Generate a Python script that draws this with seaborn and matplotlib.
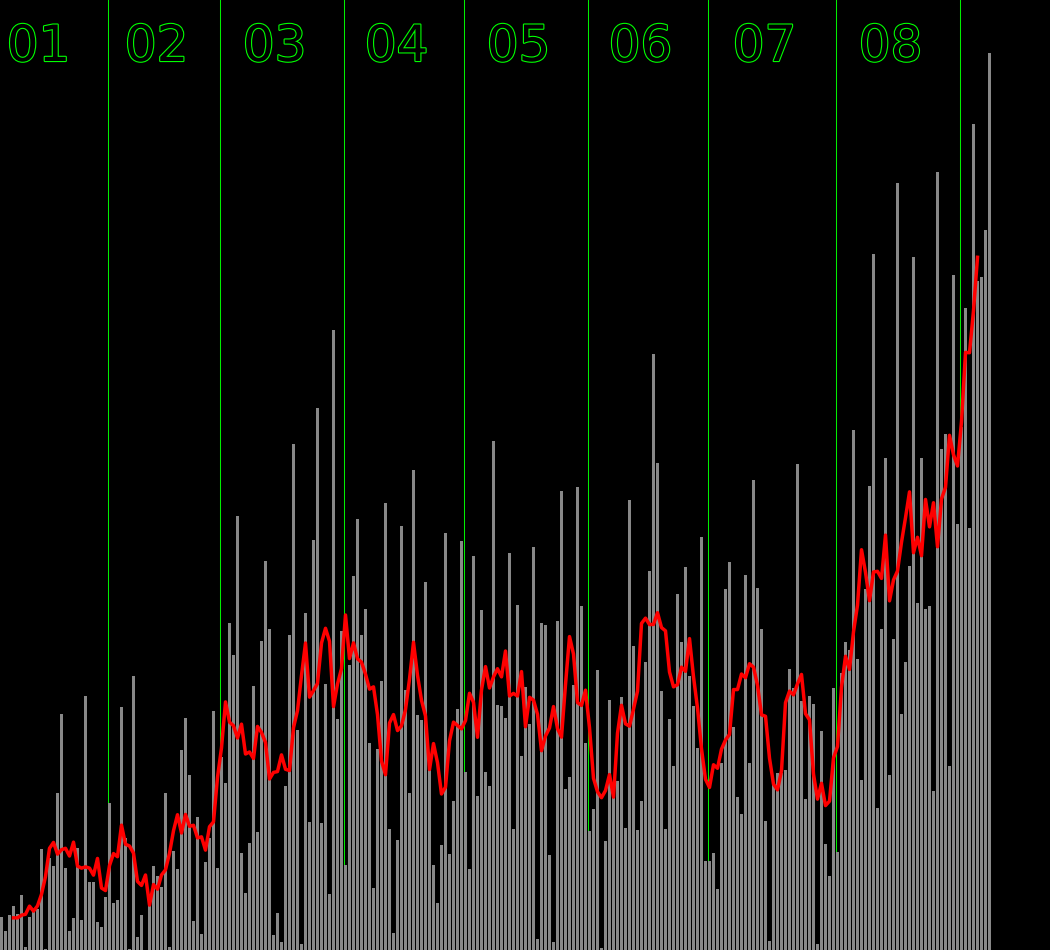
import numpy as np
import pandas as pd
import seaborn as sns
import matplotlib.pyplot as plt
import matplotlib.patheffects as pe

# daily counts, Jan 5 .. Sep 8 (one bar per day)
daily = [
    33, 19, 35, 44, 36, 55, 3, 33, 38, 41, 101, 1, 92, 84, 157, 236, 82, 19, 32, 102,
    30, 254, 68, 68, 28, 23, 53, 147, 47, 50, 243, 112, 1, 274, 13, 35, 0, 45, 84, 74,
    63, 157, 3, 99, 81, 200, 232, 175, 29, 133, 16, 88, 112, 239, 82, 193, 167, 327, 295, 434,
    97, 57, 107, 264, 118, 309, 389, 321, 15, 37, 8, 164, 315, 506, 220, 6, 337, 128, 410, 542,
    127, 266, 56, 620, 231, 319, 85, 285, 374, 431, 315, 341, 207, 62, 201, 269, 447, 121, 17, 110,
    424, 260, 157, 480, 235, 230, 368, 193, 85, 47, 105, 417, 96, 149, 241, 409, 178, 81, 394, 154,
    340, 178, 164, 509, 245, 244, 232, 397, 121, 345, 194, 263, 226, 403, 11, 327, 325, 95, 8, 329,
    459, 161, 173, 265, 463, 344, 207, 119, 141, 280, 2, 109, 250, 165, 169, 253, 122, 450, 304, 120,
    149, 288, 379, 596, 487, 259, 121, 231, 184, 356, 308, 383, 274, 244, 202, 413, 89, 89, 97, 61,
    187, 361, 388, 223, 153, 136, 375, 187, 470, 362, 321, 129, 9, 168, 177, 177, 180, 281, 262, 486,
    249, 151, 254, 246, 6, 219, 106, 74, 262, 98, 277, 308, 300, 520, 291, 170, 361, 464, 696, 142,
    321, 492, 175, 311, 767, 236, 288, 384, 693, 347, 492, 341, 344, 159, 778, 501, 516, 184, 675, 426,
    523, 642, 422, 826, 669, 673, 720, 897,
]

# index of the first bar of each month (Jan 1 falls before the first bar)
month_labels = ["01", "02", "03", "04", "05", "06", "07", "08"]
month_starts = [-4, 27, 55, 86, 116, 147, 177, 209, 240]

df = pd.DataFrame({"day": np.arange(len(daily)), "count": daily})
df["ma7"] = df["count"].rolling(7, center=True).mean()

fig = plt.figure(figsize=(10.5, 9.5), dpi=100, facecolor="black")
ax = fig.add_axes([0, 0, 1, 1])
ax.set_facecolor("black")

sns.barplot(data=df, x="day", y="count", color="#888888", saturation=1,
            width=0.75, errorbar=None, ax=ax)
sns.lineplot(data=df.dropna(), x="day", y="ma7", color="#ff0000",
             linewidth=2.5, ax=ax)

# month separators
for s in month_starts[1:]:
    ax.axvline(s - 0.5, color="#00ee00", linewidth=0.75, zorder=0.5)

# month numbers, outlined, a bit left of mid-month
for i, lab in enumerate(month_labels):
    mid = (month_starts[i] + month_starts[i + 1]) / 2 - 0.5
    ax.text(mid - 1.75, 889, lab, ha="center", va="baseline", fontsize=36,
            color="black", family="DejaVu Sans",
            path_effects=[pe.withStroke(linewidth=1.6, foreground="#00ff00")])

ax.set_xlim(-0.375, 262.125)
ax.set_ylim(0, 950)
ax.axis("off")

fig.savefig("out.png", dpi=100, facecolor="black")
